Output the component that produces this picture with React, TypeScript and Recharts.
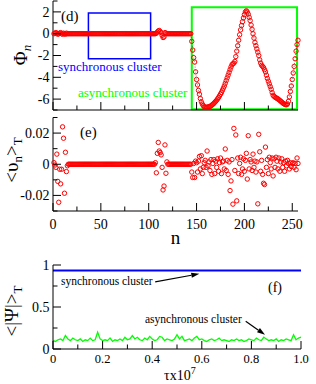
import React from 'react';
import { ComposedChart, Scatter, Line, XAxis, YAxis, ReferenceArea, ReferenceLine } from 'recharts';

const FONT = "'Liberation Serif', 'Times New Roman', serif";
const RED = '#ff0000';
const GREEN = '#00ff00';
const BLUE = '#0000ff';

// phase phi_n, n = 1..144 (synchronous part, locked near 0)
const phiSync: number[] = [
  0, 0.05, 0.1, 0.05, -0.05, 0, 0.05, 0.1, 0, -0.05, 0.05, 0,
  -0.05, 0.05, 0, 0, 0, 0, 0, 0, 0, 0, 0, 0,
  0, 0, 0, 0, 0, 0, 0, 0, 0, 0, 0, 0,
  0, 0, 0, 0, 0, 0, 0, 0, 0, 0, 0, 0,
  0, 0, 0, 0, 0, 0, 0, 0, 0, 0, 0, 0,
  0, 0, 0, 0, 0, 0, 0, 0, 0, 0, 0, 0,
  0, 0, 0, 0, 0, 0, 0, 0, 0, 0, 0, 0,
  0, 0, 0, 0, 0, 0, 0, 0, 0, 0, 0, 0,
  0, 0, 0, 0, 0, 0, 0, 0, 0, 0, 0, 0.05,
  0.15, 0.25, 0.3, 0.2, 0.1, -0.15, -0.35, -0.3, 0.1, 0.05, 0, 0,
  0, 0, 0, 0, 0, 0, 0, 0, 0, 0, 0, 0,
  0, 0, 0, 0, 0, 0, 0, 0, 0, 0, 0, 0,
];

// phase phi_n, n = 145..256 (asynchronous part)
const phiAsync: number[] = [
  -0.7, -1.5, -2.2, -2.6, -3.5, -4.2, -4.7, -5.2, -5.55, -5.95,
  -6.25, -6.45, -6.6, -6.7, -6.75, -6.75, -6.75, -6.72, -6.7, -6.68,
  -6.62, -6.55, -6.48, -6.4, -6.3, -6.2, -6.1, -5.98, -5.85, -5.7,
  -5.55, -5.4, -5.2, -5.0, -4.8, -4.55, -4.3, -4.05, -3.8, -3.55,
  -3.3, -3.05, -2.85, -2.75, -2.7, -2.55, -2.1, -1.6, -1.1, -0.6,
  -0.1, 0.35, 0.75, 1.1, 1.45, 1.75, 2.0, 2.1, 2.0, 1.8,
  1.5, 1.2, 0.8, 0.4, 0.0, -0.4, -0.8, -1.1, -1.4, -1.7,
  -2.0, -2.4, -2.7, -2.9, -3.0, -3.1, -3.3, -3.5, -3.8, -4.1,
  -4.35, -4.6, -4.85, -5.1, -5.4, -5.65, -5.75, -5.82, -5.88, -5.93,
  -5.98, -6.05, -6.12, -6.2, -6.27, -6.35, -6.42, -6.47, -6.5, -6.52,
  -6.45, -6.2, -5.8, -5.3, -4.8, -4.2, -3.6, -3.0, -2.3, -1.6,
  -1.0, -0.6,
];

// time-averaged velocity <v_n>_T, n = 1..144
const vSync: number[] = [
  0.001, -0.0005, -0.002, 0.0065, -0.011, -0.0244, -0.0032, -0.0126, -0.0032, 0.024, 0.0167, -0.0186,
  0.0077, -0.0047, -0.001, 0, 0, 0, 0, 0, 0, 0, 0, 0,
  0, 0, 0, 0, 0, 0, 0, 0, 0, 0, 0, 0,
  0, 0, 0, 0, 0, 0, 0, 0, 0, 0, 0, 0,
  0, 0, 0, 0, 0, 0, 0, 0, 0, 0, 0, 0,
  0, 0, 0, 0, 0, 0, 0, 0, 0, 0, 0, 0,
  0, 0, 0, 0, 0, 0, 0, 0, 0, 0, 0, 0,
  0, 0, 0, 0, 0, 0, 0, 0, 0, 0, 0, 0,
  0, 0, 0, 0, 0, 0, 0, 0, 0, 0, 0.001, -0.0055,
  0.007, 0.014, 0.0085, 0.0075, 0.006, -0.002, -0.0165, -0.014, 0.0124, -0.0058, 0.0015, 0,
  0, 0, 0, 0, 0, 0, 0, 0, 0, 0, 0, 0,
  0, 0, 0, 0, 0, 0, 0, 0, 0, 0, 0, 0,
];

// <v_n>_T, n = 145..256
const vAsync: number[] = [
  -0.005, -0.0085, 0.0005, -0.0085, 0.002, 0.001, -0.005, 0.002, 0.005, -0.003,
  0.0055, -0.006, -0.002, 0.001, 0.0025, -0.002, 0.0085, -0.001, 0.0015, -0.004,
  0.003, -0.0065, 0.0005, 0.003, -0.006, 0.002, -0.002, 0.0035, -0.0045, 0.001,
  0.004, -0.006, 0.0015, 0.002, -0.003, 0.0098, -0.004, 0.0025, -0.0065, 0.0015,
  -0.0169, -0.0107, 0.003, -0.0256, 0.023, -0.004, 0.0188, -0.0235, 0.004, -0.006,
  0.0005, 0.0045, -0.0065, -0.003, 0.0035, -0.0045, 0.0025, 0.007, -0.0095, 0.0183,
  -0.003, 0.003, 0.0015, -0.004, 0.0065, -0.002, 0.002, -0.005, 0.0015, -0.0254,
  0.0192, 0.008, -0.0045, 0.0025, -0.0065, -0.0122, -0.013, 0.011, -0.002, 0.003,
  -0.006, 0.0045, 0.001, -0.003, 0.004, -0.0075, 0.0035, -0.002, 0.0045, 0.002,
  -0.003, 0.004, -0.0045, 0.0015, 0.0035, -0.002, 0.001, -0.0045, 0.002, -0.001,
  0.0025, 0.0005, -0.003, 0.001, -0.0015, 0.0005, 0.001, -0.002, 0.0005, -0.0035,
  0.004, 0.0005,
];

// panel (f): time in units of 10^7
const tau: number[] = [
  0, 0.01, 0.02, 0.03, 0.04, 0.05, 0.06, 0.07, 0.08, 0.09,
  0.1, 0.11, 0.12, 0.13, 0.14, 0.15, 0.16, 0.17, 0.18, 0.19,
  0.2, 0.21, 0.22, 0.23, 0.24, 0.25, 0.26, 0.27, 0.28, 0.29,
  0.3, 0.31, 0.32, 0.33, 0.34, 0.35, 0.36, 0.37, 0.38, 0.39,
  0.4, 0.41, 0.42, 0.43, 0.44, 0.45, 0.46, 0.47, 0.48, 0.49,
  0.5, 0.51, 0.52, 0.53, 0.54, 0.55, 0.56, 0.57, 0.58, 0.59,
  0.6, 0.61, 0.62, 0.63, 0.64, 0.65, 0.66, 0.67, 0.68, 0.69,
  0.7, 0.71, 0.72, 0.73, 0.74, 0.75, 0.76, 0.77, 0.78, 0.79,
  0.8, 0.81, 0.82, 0.83, 0.84, 0.85, 0.86, 0.87, 0.88, 0.89,
  0.9, 0.91, 0.92, 0.93, 0.94, 0.95, 0.96, 0.97, 0.98, 0.99,
  1.0,
];
// <|Psi|>_T of the asynchronous cluster
const psiAsync: number[] = [
  0.10, 0.09, 0.11, 0.12, 0.10, 0.16, 0.12, 0.10, 0.13, 0.11,
  0.10, 0.12, 0.09, 0.11, 0.10, 0.13, 0.10, 0.11, 0.20, 0.12,
  0.10, 0.11, 0.10, 0.13, 0.09, 0.11, 0.10, 0.12, 0.10, 0.14,
  0.11, 0.12, 0.16, 0.12, 0.14, 0.11, 0.10, 0.13, 0.11, 0.15,
  0.12, 0.10, 0.11, 0.15, 0.14, 0.10, 0.12, 0.11, 0.10, 0.12,
  0.17, 0.12, 0.15, 0.10, 0.11, 0.12, 0.10, 0.13, 0.15, 0.11,
  0.12, 0.10, 0.09, 0.11, 0.12, 0.10, 0.11, 0.13, 0.10, 0.11,
  0.10, 0.09, 0.11, 0.10, 0.12, 0.10, 0.11, 0.09, 0.10, 0.12,
  0.11, 0.10, 0.13, 0.11, 0.10, 0.14, 0.12, 0.10, 0.11, 0.10,
  0.12, 0.09, 0.11, 0.10, 0.12, 0.11, 0.10, 0.17, 0.11, 0.13,
  0.14,
];
// synchronous cluster stays flat
const tauSync: number[] = [0, 1];
const psiSync: number[] = [0.935, 0.935];

const nTicks = [0, 25, 50, 75, 100, 125, 150, 175, 200, 225, 250];
const nMajor = [0, 50, 100, 150, 200, 250];
const phiTicks = [-7, -6, -5, -4, -3, -2, -1, 0, 1, 2, 3];
const phiMajor = [-6, -4, -2, 0, 2];
const vTicks = [-0.03, -0.02, -0.01, 0, 0.01, 0.02, 0.03];
const vMajor = [-0.02, 0, 0.02];
const tauTicks = [0, 0.1, 0.2, 0.3, 0.4, 0.5, 0.6, 0.7, 0.8, 0.9, 1];
const tauMajor = [0, 0.2, 0.4, 0.6, 0.8, 1];
const psiTicks = [0, 0.25, 0.5, 0.75, 1];
const psiMajor = [0, 0.5, 1];

const phiV = [...phiSync, ...phiAsync];
const vV = [...vSync, ...vAsync];
const oscRows = phiV.map((phi, i) => ({ n: i + 1, phi, v: vV[i] }));
const asyncRows = tau.map((t, i) => ({ t, psi: psiAsync[i] }));
const syncRows = tauSync.map((t, i) => ({ t, psi: psiSync[i] }));

type Side = 'bottom' | 'top' | 'left' | 'right';

// inward ticks, labels outside (grace style)
function makeTick(side: Side, major: number[], fmt?: (v: number) => string, fontSize = 14, gap = 0) {
  return function TickMark(p: any) {
    const v = Number(p.payload?.value);
    const big = major.some((m) => Math.abs(m - v) < 1e-9);
    const len = big ? 8 : 4.5;
    const x = Number(p.x);
    const y = Number(p.y);
    const dx = side === 'left' ? len : side === 'right' ? -len : 0;
    const dy = side === 'bottom' ? -len : side === 'top' ? len : 0;
    return (
      <g>
        <line x1={x} y1={y} x2={x + dx} y2={y + dy} stroke="#000" strokeWidth={1} />
        {big && fmt && side === 'bottom' && (
          <text x={x} y={y + gap} textAnchor="middle" fontSize={fontSize} fontFamily={FONT} fill="#000">
            {fmt(v)}
          </text>
        )}
        {big && fmt && side === 'left' && (
          <text x={x - 3.5} y={y + fontSize * 0.34} textAnchor="end" fontSize={fontSize} fontFamily={FONT} fill="#000">
            {fmt(v)}
          </text>
        )}
      </g>
    );
  };
}

const axisCommon = {
  tickSize: 0,
  tickMargin: 0,
  tickLine: false,
  interval: 0 as const,
  axisLine: { stroke: '#000', strokeWidth: 1 },
};

const ringDot = (p: any) => <circle cx={p.cx} cy={p.cy} r={2.2} fill="none" stroke={RED} strokeWidth={1} />;

const Arrow = (p: any) => {
  const { x1, y1, x2, y2 } = p;
  const a = Math.atan2(y2 - y1, x2 - x1);
  const L = 8;
  const W = 2.6;
  const bx = x2 - L * Math.cos(a);
  const by = y2 - L * Math.sin(a);
  const pts = `${x2},${y2} ${bx - W * Math.sin(a)},${by + W * Math.cos(a)} ${bx + W * Math.sin(a)},${by - W * Math.cos(a)}`;
  return (
    <g>
      <line x1={x1} y1={y1} x2={bx} y2={by} stroke="#000" strokeWidth={1.2} />
      <polygon points={pts} fill="#000" />
    </g>
  );
};

const fmtV = (v: number) => (v === 0 ? '0' : v.toFixed(2));
const fmtTau = (v: number) => (v === 0 ? '0' : v.toFixed(1));

export default function App() {
  return (
    <div style={{ position: 'absolute', left: 0, top: 0, width: 316, height: 384, background: '#fff' }}>
      {/* (d) phases */}
      <div style={{ position: 'absolute', left: 0, top: 0 }}>
        <ComposedChart width={316} height={115} data={oscRows} margin={{ top: 1, right: 18, bottom: 0, left: 0 }}>
          <XAxis xAxisId="b" type="number" dataKey="n" domain={[0, 256]} ticks={nTicks} height={5} {...axisCommon} tick={makeTick('bottom', nMajor)} />
          <XAxis xAxisId="t" orientation="top" type="number" dataKey="n" domain={[0, 256]} ticks={nTicks} height={0} {...axisCommon} tick={makeTick('top', nMajor)} />
          <YAxis yAxisId="l" type="number" dataKey="phi" domain={[-7, 3]} ticks={phiTicks} width={53} {...axisCommon} tick={makeTick('left', phiMajor, (v) => String(v), 14)} />
          <YAxis yAxisId="r" orientation="right" type="number" dataKey="phi" domain={[-7, 3]} ticks={phiTicks} width={0} {...axisCommon} tick={makeTick('right', phiMajor)} />
          <ReferenceArea xAxisId="b" yAxisId="l" x1={37} x2={102} y1={-2.3} y2={1.9} fill="none" fillOpacity={0} stroke={BLUE} strokeWidth={1.5} />
          <ReferenceArea xAxisId="b" yAxisId="l" x1={145} x2={255} y1={-6.93} y2={2.42} fill="none" fillOpacity={0} stroke={GREEN} strokeWidth={2} />
          <Line xAxisId="b" yAxisId="l" dataKey="phi" stroke="#222" strokeWidth={0.6} strokeDasharray="1 2" dot={false} isAnimationActive={false} />
          <Scatter xAxisId="b" yAxisId="l" dataKey="phi" shape={ringDot} isAnimationActive={false} />
        </ComposedChart>
      </div>

      {/* (e) mean velocities */}
      <div style={{ position: 'absolute', left: 0, top: 112 }}>
        <ComposedChart width={316} height={129} data={oscRows} margin={{ top: 5.5, right: 18, bottom: 0, left: 0 }}>
          <XAxis xAxisId="b" type="number" dataKey="n" domain={[0, 256]} ticks={nTicks} height={30} {...axisCommon} tick={makeTick('bottom', nMajor, (v) => String(v), 14, 18)} />
          <XAxis xAxisId="t" orientation="top" type="number" dataKey="n" domain={[0, 256]} ticks={nTicks} height={0} {...axisCommon} tick={makeTick('top', nMajor)} />
          <YAxis yAxisId="l" type="number" dataKey="v" domain={[-0.03, 0.03]} ticks={vTicks} width={53} {...axisCommon} tick={makeTick('left', vMajor, fmtV, 14)} />
          <YAxis yAxisId="r" orientation="right" type="number" dataKey="v" domain={[-0.03, 0.03]} ticks={vTicks} width={0} {...axisCommon} tick={makeTick('right', vMajor)} />
          <Scatter xAxisId="b" yAxisId="l" dataKey="v" shape={ringDot} isAnimationActive={false} />
        </ComposedChart>
      </div>

      {/* (f) order parameters */}
      <div style={{ position: 'absolute', left: 0, top: 258 }}>
        <ComposedChart width={316} height={126} margin={{ top: 7, right: 15, bottom: 0, left: 0 }}>
          <XAxis xAxisId="b" type="number" dataKey="t" domain={[0, 1]} ticks={tauTicks} height={35} {...axisCommon} tick={makeTick('bottom', tauMajor, fmtTau, 12.5, 14)} />
          <XAxis xAxisId="t" orientation="top" type="number" dataKey="t" domain={[0, 1]} ticks={tauTicks} height={0} {...axisCommon} tick={makeTick('top', tauMajor)} />
          <YAxis yAxisId="l" type="number" dataKey="psi" domain={[0, 1]} ticks={psiTicks} width={53} {...axisCommon} tick={makeTick('left', psiMajor, (v) => String(v), 14)} />
          <YAxis yAxisId="r" orientation="right" type="number" dataKey="psi" domain={[0, 1]} ticks={psiTicks} width={0} {...axisCommon} tick={makeTick('right', psiMajor)} />
          <Line xAxisId="b" yAxisId="l" data={syncRows} dataKey="psi" stroke={BLUE} strokeWidth={2} dot={false} isAnimationActive={false} />
          <Line xAxisId="b" yAxisId="l" data={asyncRows} dataKey="psi" stroke={GREEN} strokeWidth={1.3} dot={false} isAnimationActive={false} />
          <ReferenceLine xAxisId="b" yAxisId="l" segment={[{ x: 0.412, y: 0.8 }, { x: 0.59, y: 0.895 }]} shape={Arrow} />
          <ReferenceLine xAxisId="b" yAxisId="l" segment={[{ x: 0.777, y: 0.33 }, { x: 0.855, y: 0.17 }]} shape={Arrow} />
        </ComposedChart>
      </div>

      <svg width={316} height={384} style={{ position: 'absolute', left: 0, top: 0, pointerEvents: 'none' }} fontFamily={FONT}>
        <text x={61} y={21} fontSize={15}>(d)</text>
        <text x={58} y={71} fontSize={13} fill={BLUE}>synchronous cluster</text>
        <text x={78} y={97} fontSize={13} fill={GREEN}>asynchronous cluster</text>
        <text transform="translate(27,55) rotate(-90)" textAnchor="middle" fontSize={19}>
          Φ<tspan fontSize={13} fontStyle="italic" dy={4}>n</tspan>
        </text>

        <text x={80} y={137} fontSize={15}>(e)</text>
        <text transform="translate(18,160) rotate(-90)" textAnchor="middle" fontSize={19}>
          {'<υ'}
          <tspan fontSize={13} dy={4}>n</tspan>
          <tspan dy={-4}>{'>'}</tspan>
          <tspan fontSize={13} dy={4}>T</tspan>
        </text>
        <text x={175.5} y={244} textAnchor="middle" fontSize={19}>n</text>

        <text x={268} y={292} fontSize={14}>(f)</text>
        <text x={61} y={285} fontSize={11.5}>synchronous cluster</text>
        <text x={145} y={323} fontSize={11.5}>asynchronous cluster</text>
        <text transform="translate(17.5,311) rotate(-90)" textAnchor="middle" fontSize={19}>
          {'<|Ψ|>'}
          <tspan fontSize={13} dy={4}>T</tspan>
        </text>
        <text x={164} y={380} fontSize={14}>
          τx10<tspan fontSize={10} dy={-6}>7</tspan>
        </text>
      </svg>
    </div>
  );
}
